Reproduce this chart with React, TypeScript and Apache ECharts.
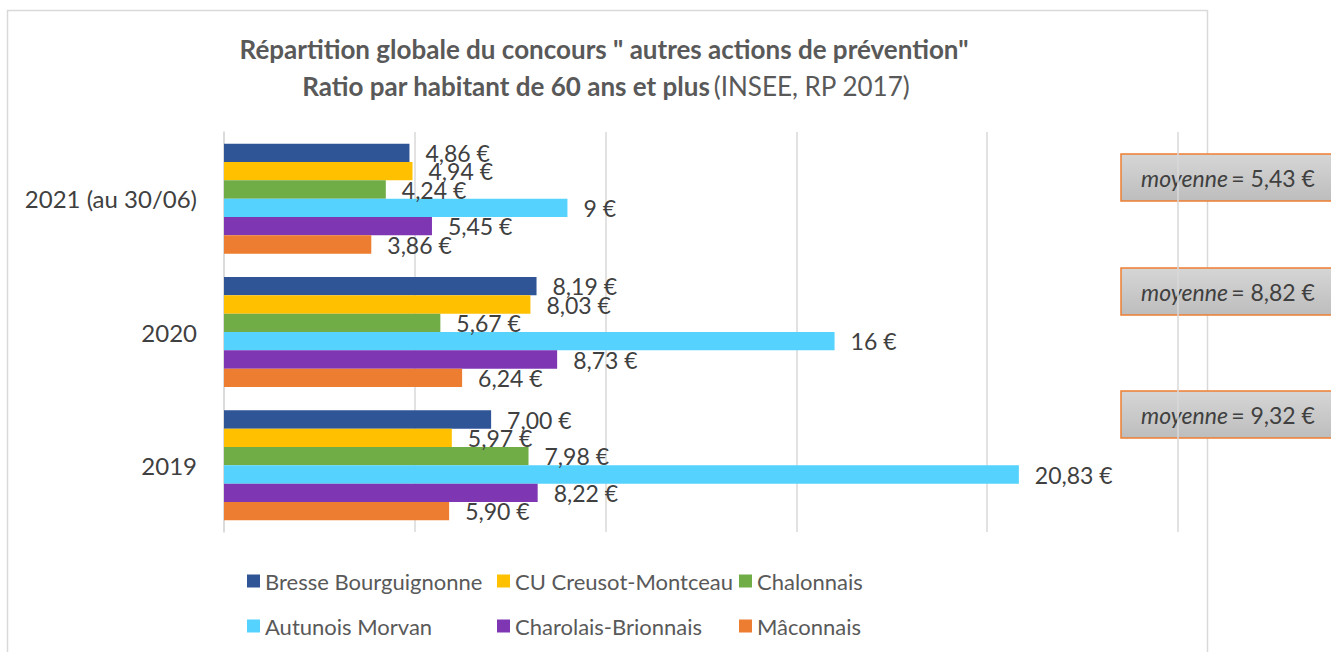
import React, { useEffect, useRef } from "react";
import * as echarts from "echarts";

const categories = ["2019", "2020", "2021 (au 30/06)"];
const seriesNames = [
  "Bresse Bourguignonne",
  "CU Creusot-Montceau",
  "Chalonnais",
  "Autunois Morvan",
  "Charolais-Brionnais",
  "Mâconnais",
];
const seriesColors = ["#2f5597", "#ffc000", "#70ad47", "#55d3fe", "#7e36b3", "#ed7d31"];
const bresse = [7.0, 8.19, 4.86];
const creusot = [5.97, 8.03, 4.94];
const chalonnais = [7.98, 5.67, 4.24];
const autunois = [20.83, 16, 9];
const charolais = [8.22, 8.73, 5.45];
const maconnais = [5.9, 6.24, 3.86];
const bresseLabels = ["7,00 €", "8,19 €", "4,86 €"];
const creusotLabels = ["5,97 €", "8,03 €", "4,94 €"];
const chalonnaisLabels = ["7,98 €", "5,67 €", "4,24 €"];
const autunoisLabels = ["20,83 €", "16 €", "9 €"];
const charolaisLabels = ["8,22 €", "8,73 €", "5,45 €"];
const maconnaisLabels = ["5,90 €", "6,24 €", "3,86 €"];
const averageLabels = ["5,43 €", "8,82 €", "9,32 €"]; // 2021, 2020, 2019 (top to bottom)
const xTicks = { min: 0, max: 25, interval: 5 };

const FONT = "Lato, 'Open Sans', sans-serif";
const TEXT = "#404040";
const TITLE = "#595959";

export default function App() {
  const ref = useRef<HTMLDivElement>(null);
  useEffect(() => {
    document.body.style.margin = "0";
    if (!ref.current) return;
    const chart = echarts.init(ref.current, undefined, { renderer: "svg" });
    const values = [bresse, creusot, chalonnais, autunois, charolais, maconnais];
    const labels = [bresseLabels, creusotLabels, chalonnaisLabels, autunoisLabels, charolaisLabels, maconnaisLabels];
    const boxTops = [154, 268, 391];
    const legendCols = [
      { left: 247, data: [seriesNames[0], seriesNames[3]] },
      { left: 497, data: [seriesNames[1], seriesNames[4]] },
      { left: 739, data: [seriesNames[2], seriesNames[5]] },
    ];
    chart.setOption({
      animation: false,
      textStyle: { fontFamily: FONT },
      grid: { left: 224, right: 153, top: 132, bottom: 120, containLabel: false },
      xAxis: {
        type: "value",
        min: xTicks.min,
        max: xTicks.max,
        interval: xTicks.interval,
        axisLabel: { show: false },
        axisLine: { show: false },
        axisTick: { show: false },
        splitLine: { show: true, lineStyle: { color: "#d9d9d9", width: 1.5 } },
      },
      yAxis: {
        type: "category",
        data: categories,
        axisTick: { show: false },
        axisLine: { show: true, lineStyle: { color: "#d9d9d9", width: 1.5 } },
        axisLabel: { color: TEXT, fontSize: 24, margin: 27, fontFamily: FONT },
      },
      legend: legendCols.map((c) => ({
        orient: "vertical",
        left: c.left,
        top: 570,
        padding: 0,
        itemWidth: 13,
        itemHeight: 13,
        itemGap: 23,
        icon: "rect",
        data: c.data,
        textStyle: { color: TITLE, fontSize: 22, lineHeight: 20, fontFamily: FONT },
      })),
      series: seriesNames.map((name, i) => ({
        name,
        type: "bar",
        data: values[i],
        barGap: "0%",
        barCategoryGap: "17.5%",
        itemStyle: { color: seriesColors[i] },
        label: {
          show: true,
          position: "right",
          distance: 16,
          color: TEXT,
          fontSize: 23,
          fontFamily: FONT,
          formatter: (p: any) => labels[i][p.dataIndex],
        },
      })),
      graphic: [
        {
          type: "rect",
          z: -10,
          shape: { x: 7.5, y: 10.5, width: 1200, height: 700 },
          style: { fill: "none", stroke: "#d9d9d9", lineWidth: 1.5 },
          silent: true,
        },
        {
          type: "text",
          x: 604,
          y: 49,
          style: {
            text: "{b|Répartition globale du concours \" autres actions de prévention\"}",
            align: "center",
            verticalAlign: "middle",
            textAlign: "center",
            textVerticalAlign: "middle",
            rich: { b: { fontSize: 26, fontWeight: "bold", fill: TITLE, fontFamily: FONT } },
          },
        },
        {
          type: "text",
          x: 606,
          y: 86,
          style: {
            text: "{b|Ratio par habitant de 60 ans et plus} {n|(INSEE, RP 2017)}",
            align: "center",
            verticalAlign: "middle",
            textAlign: "center",
            textVerticalAlign: "middle",
            rich: {
              b: { fontSize: 26, fontWeight: "bold", fill: TITLE, fontFamily: FONT },
              n: { fontSize: 26, fontWeight: "normal", fill: TITLE, fontFamily: FONT },
            },
          },
        },
        ...averageLabels.map((t, k) => ({
          type: "group",
          children: [
            {
              type: "rect",
              shape: { x: 1121, y: boxTops[k], width: 214, height: 47 },
              style: {
                fill: new echarts.graphic.LinearGradient(0, 0, 0, 1, [
                  { offset: 0, color: "#d6d6d6" },
                  { offset: 1, color: "#bdbdbd" },
                ]),
                stroke: "#ed7d31",
                lineWidth: 1.5,
              },
            },
            {
              type: "text",
              x: 1228,
              y: boxTops[k] + 24,
              style: {
                text: "{i|moyenne} {n|= " + t + "}",
                align: "center",
                verticalAlign: "middle",
                textAlign: "center",
                textVerticalAlign: "middle",
                rich: {
                  i: { fontSize: 23, fontStyle: "italic", fill: TEXT, fontFamily: FONT },
                  n: { fontSize: 23, fill: TEXT, fontFamily: FONT },
                },
              },
            },
          ],
        })),
      ],
    });
    return () => chart.dispose();
  }, []);
  return <div ref={ref} style={{ width: 1331, height: 652 }} />;
}
